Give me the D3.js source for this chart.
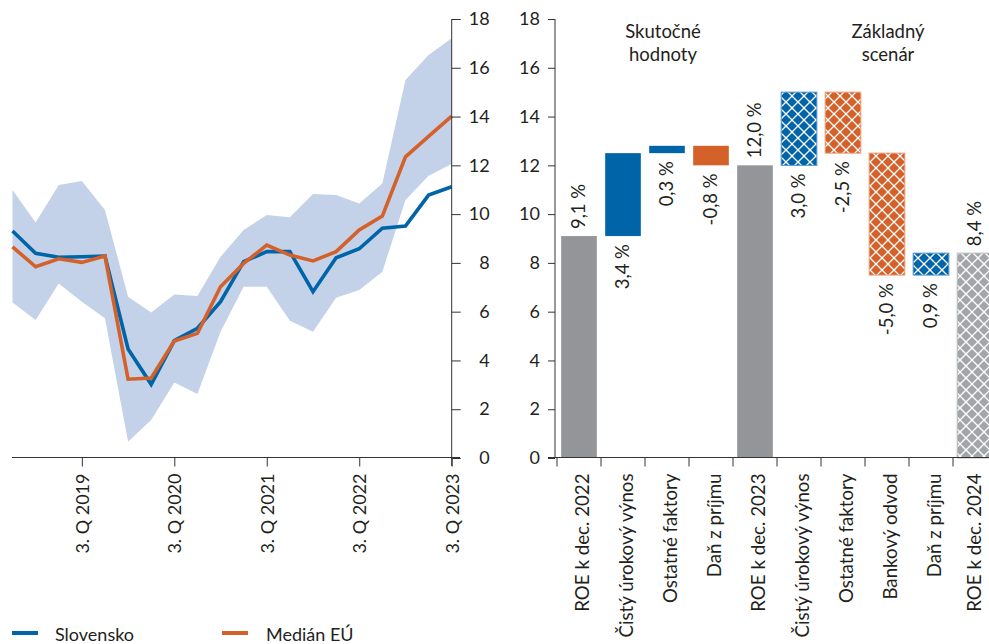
<!DOCTYPE html>
<html><head><meta charset="utf-8">
<script src="https://cdn.jsdelivr.net/npm/d3@7"></script>
<style>body{margin:0;background:#fff;overflow:hidden} text{font-family:Lato, "Open Sans", sans-serif; fill:#231f20}</style>
</head><body><svg id="c" width="989" height="644"></svg>
<script>
// ---- Left chart data ----
const quarters = ["4Q2018","1Q2019","2Q2019","3Q2019","4Q2019","1Q2020","2Q2020","3Q2020","4Q2020","1Q2021","2Q2021","3Q2021","4Q2021","1Q2022","2Q2022","3Q2022","4Q2022","1Q2023","2Q2023","3Q2023"];
const slovensko = [9.31,8.39,8.23,8.25,8.28,4.47,3.02,4.81,5.32,6.41,8.05,8.46,8.46,6.82,8.21,8.58,9.42,9.51,10.78,11.12];
const medianEU  = [8.66,7.84,8.17,8.02,8.28,3.23,3.28,4.80,5.11,7.02,7.98,8.73,8.32,8.08,8.46,9.35,9.92,12.35,13.19,14.02];
const bandLow   = [6.38,5.66,7.16,6.41,5.73,0.67,1.56,3.10,2.62,5.18,7.02,7.02,5.63,5.18,6.57,6.89,7.64,10.58,11.57,12.05];
const bandHigh  = [10.99,9.66,11.19,11.36,10.17,6.61,5.97,6.70,6.64,8.25,9.35,9.96,9.87,10.82,10.78,10.44,11.26,15.50,16.52,17.21];
const quarterTicks = ["3Q2019","3Q2020","3Q2021","3Q2022","3Q2023"];
const quarterTickLabels = ["3. Q 2019","3. Q 2020","3. Q 2021","3. Q 2022","3. Q 2023"];
const yTicks = [0,2,4,6,8,10,12,14,16,18];
const legendLabels = ["Slovensko","Medián EÚ"];

// ---- Right chart data ----
const categories = ["ROE k dec. 2022","Čistý úrokový výnos","Ostatné faktory","Daň z príjmu","ROE k dec. 2023","Čistý úrokový výnos","Ostatné faktory","Bankový odvod","Daň z príjmu","ROE k dec. 2024"];
const changes = [9.1, 3.4, 0.3, -0.8, 12.0, 3.0, -2.5, -5.0, 0.9, 8.4];
const kinds = ["total","delta","delta","delta","total","delta","delta","delta","delta","total"];
const scenario = ["actual","actual","actual","actual","actual","baseline","baseline","baseline","baseline","baseline"];
const groupTitles = [["Skutočné","hodnoty"],["Základný","scenár"]];

const C = {blue:"#0064a8", orange:"#d4602a", gray:"#939598", gray2:"#a3a6a9", band:"#c3d2e8", axis:"#333"};

const svg = d3.select("#c");
const defs = svg.append("defs");
function mkPattern(id, color){
  const p = defs.append("pattern").attr("id",id).attr("patternUnits","userSpaceOnUse")
    .attr("width",12).attr("height",12);
  p.append("rect").attr("width",12).attr("height",12).attr("fill",color);
  p.append("path").attr("d","M0,0L12,12M12,0L0,12")
    .attr("stroke","#fff").attr("stroke-width",1.3).attr("fill","none");
}
mkPattern("hBlue", C.blue); mkPattern("hOrange", C.orange); mkPattern("hGray", C.gray2);

const y = d3.scaleLinear().domain([0,18]).range([458,19]);

// ---- Left chart ----
const x = d3.scalePoint().domain(quarters).range([12.5, 451.7]);
const area = d3.area().x((d,i)=>x(quarters[i])).y0((d,i)=>y(bandLow[i])).y1((d,i)=>y(bandHigh[i]));
svg.append("path").datum(bandLow).attr("d",area).attr("fill",C.band);
const line = d3.line().x((d,i)=>x(quarters[i])).y(d=>y(d));
svg.append("path").datum(slovensko).attr("d",line).attr("fill","none").attr("stroke",C.blue).attr("stroke-width",3.6).attr("stroke-linejoin","miter");
svg.append("path").datum(medianEU).attr("d",line).attr("fill","none").attr("stroke",C.orange).attr("stroke-width",3.6).attr("stroke-linejoin","miter");

// left y axis (right side)
const ly = svg.append("g").attr("transform","translate(451.7,0)")
  .call(d3.axisRight(y).tickValues(yTicks).tickSize(9).tickFormat(d=>d));
ly.select(".domain").attr("stroke",C.axis).attr("d","M0,19V466");
ly.selectAll(".tick line").attr("stroke",C.axis);
ly.selectAll(".tick text").attr("x",38).attr("text-anchor","end").style("font-size","18px").style("font-family","Lato");

// left x axis
const lx = svg.append("g").attr("transform","translate(0,457.5)")
  .call(d3.axisBottom(x).tickValues(quarterTicks).tickSize(9).tickFormat((d,i)=>quarterTickLabels[i]));
lx.select(".domain").attr("stroke",C.axis).attr("d","M12,0H460");
lx.selectAll(".tick line").attr("stroke",C.axis);
lx.selectAll(".tick text").attr("transform","rotate(-90)").attr("x",-16).attr("y",0).attr("dy","0.35em")
  .attr("text-anchor","end").style("font-size","18px").style("font-family","Lato");

// legend
const legend = svg.append("g");
[[C.blue,12,55],[C.orange,222,266]].forEach((c,i)=>{
  legend.append("line").attr("x1",c[1]).attr("x2",c[1]+26).attr("y1",633).attr("y2",633)
    .attr("stroke",c[0]).attr("stroke-width",4);
  legend.append("text").attr("x",c[2]).attr("y",641).style("font-size","18px").text(legendLabels[i]);
});

// ---- Right chart ----
const idx = d3.range(categories.length);
const xb = d3.scaleBand().domain(idx).range([557, 997]).paddingInner(0.19).paddingOuter(0.095);
let running = 0;
const bars = idx.map(i=>{
  let s, e;
  if(kinds[i]==="total"){ s=0; e=changes[i]; running=e; }
  else { s=running; e=running+changes[i]; running=e; }
  return {i, s, e, lo:Math.min(s,e), hi:Math.max(s,e)};
});
function fillOf(b){
  const k=kinds[b.i], base=scenario[b.i]==="baseline";
  if(k==="total") return base?"url(#hGray)":C.gray;
  if(changes[b.i]>=0) return base?"url(#hBlue)":C.blue;
  return base?"url(#hOrange)":C.orange;
}
function strokeOf(b){
  if(scenario[b.i]!=="baseline") return "none";
  if(kinds[b.i]==="total") return "#b8babd";
  return changes[b.i]>=0 ? "#4d92c9" : "#e89a74";
}
svg.append("g").selectAll("rect").data(bars).join("rect")
  .attr("x",b=>xb(b.i)).attr("width",xb.bandwidth())
  .attr("y",b=>y(b.hi)).attr("height",b=>y(b.lo)-y(b.hi))
  .attr("fill",fillOf).attr("stroke",strokeOf).attr("stroke-width",1);

// value labels
const fmt = v => v.toFixed(1).replace(".",",") + " %";
svg.append("g").selectAll("text").data(bars).join("text")
  .attr("transform",b=>{
    const cx = xb(b.i)+xb.bandwidth()/2;
    const yy = kinds[b.i]==="total" ? y(b.hi)-7 : y(b.lo)+8;
    return `translate(${cx},${yy}) rotate(-90)`;
  })
  .attr("dy","0.35em")
  .attr("text-anchor",b=>kinds[b.i]==="total"?"start":"end")
  .style("font-size","18.5px")
  .text(b=>fmt(changes[b.i]));

// right y axis
const ry = svg.append("g").attr("transform","translate(555,0)")
  .call(d3.axisLeft(y).tickValues(yTicks).tickSize(7).tickFormat(d=>d));
ry.select(".domain").attr("stroke",C.axis).attr("d","M0,19V458");
ry.selectAll(".tick line").attr("stroke",C.axis);
ry.selectAll(".tick text").attr("x",-15).style("font-size","18px").style("font-family","Lato");

// right x axis
const rx = svg.append("g").attr("transform","translate(0,457.5)");
rx.append("path").attr("d","M548,0H989").attr("stroke",C.axis).attr("fill","none");
const step = xb.step();
const bounds = idx.map(i=>xb(i)-step*xb.paddingInner()/2);
rx.selectAll("line.t").data(bounds).join("line").attr("class","t")
  .attr("x1",d=>d).attr("x2",d=>d).attr("y1",0).attr("y2",9).attr("stroke",C.axis);
rx.selectAll("text").data(idx).join("text")
  .attr("transform",i=>`translate(${xb(i)+xb.bandwidth()/2+(i===idx.length-1?-1:3)},16) rotate(-90)`)
  .attr("dy","0.35em").attr("text-anchor","end").style("font-size","18.7px")
  .text(i=>categories[i]);

// group titles
[[663],[888]].forEach((p,g)=>{
  groupTitles[g].forEach((t,k)=>{
    svg.append("text").attr("x",p[0]).attr("y",38+k*23).attr("text-anchor","middle")
      .style("font-size","18.5px").text(t);
  });
});
</script></body></html>
